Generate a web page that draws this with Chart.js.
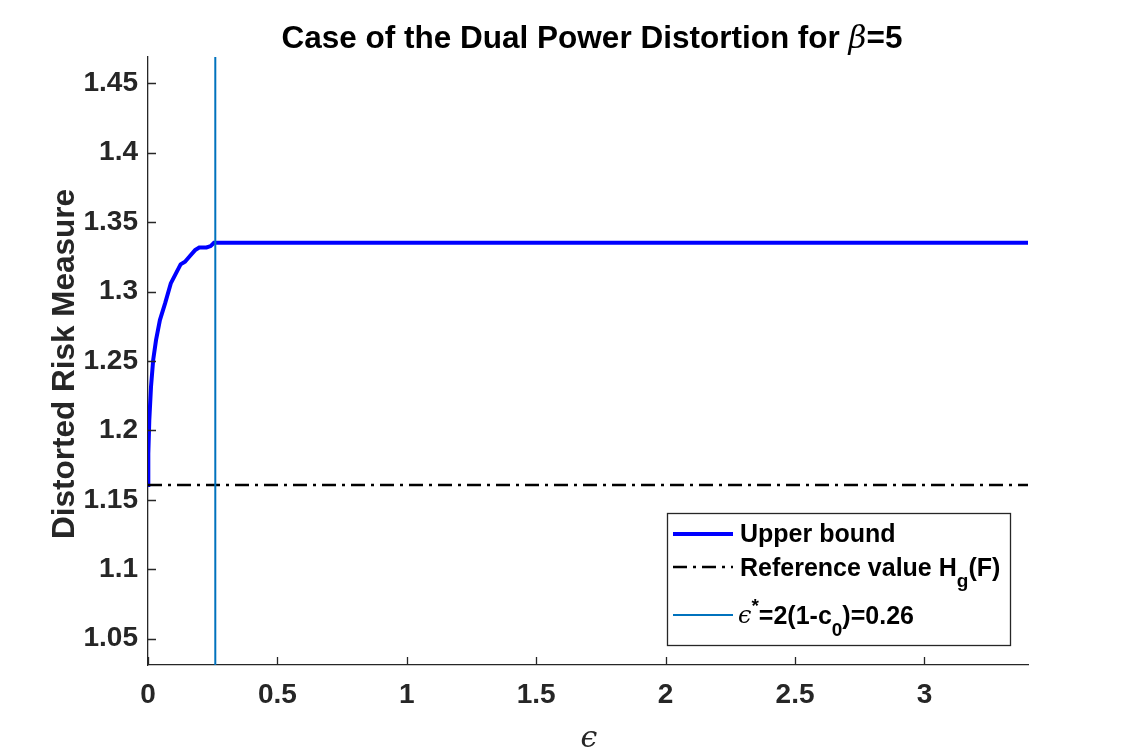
<!DOCTYPE html>
<html>
<head>
<meta charset="utf-8">
<script src="https://cdn.jsdelivr.net/npm/chart.js@4/dist/chart.umd.min.js"></script>
<style>
html,body{margin:0;padding:0;background:#fff;}
#wrap{width:1138px;height:756px;}
</style>
</head>
<body>
<div id="wrap"><canvas id="c" width="1138" height="756"></canvas></div>
<script>
// ---- data ----
const upperX = [0, 0.0012, 0.005, 0.0116, 0.02, 0.031, 0.046, 0.066, 0.088, 0.108, 0.126, 0.143, 0.162, 0.182, 0.198, 0.226, 0.242, 0.255, 3.4];
const upperY = [1.1606, 1.1834, 1.2074, 1.2314, 1.2507, 1.265, 1.2795, 1.2915, 1.3059, 1.3131, 1.3196, 1.3215, 1.3256, 1.3299, 1.3318, 1.3318, 1.3328, 1.3352, 1.3352];
const referenceValue = 1.1606;
const epsStar = 0.26;
const xRange = [0, 3.4];
const yRange = [1.031, 1.469];
const xTickValues = [0, 0.5, 1, 1.5, 2, 2.5, 3];
const xTickLabels = ['0', '0.5', '1', '1.5', '2', '2.5', '3'];
const yTickValues = [1.05, 1.1, 1.15, 1.2, 1.25, 1.3, 1.35, 1.4, 1.45];
const yTickLabels = ['1.05', '1.1', '1.15', '1.2', '1.25', '1.3', '1.35', '1.4', '1.45'];

const SANS = '"Liberation Sans", Arial, Helvetica, sans-serif';
const SERIF = '"DejaVu Serif", "Liberation Serif", serif';
const AXIS = '#262626';

function drawRuns(ctx, x, runs, align) {
  let total = 0;
  runs.forEach(r => { ctx.font = r.font; r.w = ctx.measureText(r.t).width; total += r.w; });
  let cx = align === 'center' ? x - total / 2 : x;
  ctx.textAlign = 'left';
  ctx.textBaseline = 'alphabetic';
  runs.forEach(r => { ctx.font = r.font; ctx.fillText(r.t, cx, r.base); cx += r.w; });
}

const decor = {
  id: 'decor',
  afterDraw(chart) {
    const ctx = chart.ctx;
    const xs = chart.scales.x, ys = chart.scales.y;
    const area = chart.chartArea;
    ctx.save();
    // inward tick marks
    ctx.strokeStyle = AXIS;
    ctx.lineWidth = 1.3;
    ctx.beginPath();
    xTickValues.forEach(v => { const px = Math.round(xs.getPixelForValue(v)) + 0.5; ctx.moveTo(px, area.bottom); ctx.lineTo(px, area.bottom - 8); });
    yTickValues.forEach(v => { const py = Math.round(ys.getPixelForValue(v)) + 0.5; ctx.moveTo(area.left, py); ctx.lineTo(area.left + 8, py); });
    ctx.stroke();

    // title
    ctx.fillStyle = '#000';
    const cxm = (area.left + area.right) / 2 + 4;
    drawRuns(ctx, cxm, [
      {t: 'Case of the Dual Power Distortion for ', font: 'bold 31.5px ' + SANS, base: 48},
      {t: 'β', font: 'italic 31px ' + SERIF, base: 48},
      {t: '=5', font: 'bold 31.5px ' + SANS, base: 48}
    ], 'center');

    // x axis title
    ctx.fillStyle = AXIS;
    ctx.font = 'italic 30px ' + SERIF;
    ctx.textAlign = 'center';
    ctx.textBaseline = 'alphabetic';
    ctx.fillText('ϵ', 589, 747);

    // y axis title
    ctx.save();
    ctx.translate(74, 364);
    ctx.rotate(-Math.PI / 2);
    ctx.font = 'bold 31.5px ' + SANS;
    ctx.textAlign = 'center';
    ctx.textBaseline = 'alphabetic';
    ctx.fillText('Distorted Risk Measure', 0, 0);
    ctx.restore();

    // legend
    const L = 667, T = 513, R = 1010, B = 645;
    ctx.fillStyle = '#fff';
    ctx.fillRect(L, T, R - L, B - T);
    ctx.strokeStyle = AXIS;
    ctx.lineWidth = 1.3;
    ctx.strokeRect(L + 0.5, T + 0.5, R - L, B - T);
    const ds = chart.data.datasets;
    const rows = [
      {ds: ds[2], y: 534},
      {ds: ds[1], y: 567},
      {ds: ds[0], y: 615}
    ];
    rows.forEach(r => {
      ctx.save();
      ctx.strokeStyle = r.ds.borderColor;
      ctx.lineWidth = r.ds.borderWidth;
      ctx.setLineDash(r.ds.borderDash || []);
      ctx.beginPath();
      ctx.moveTo(673, r.y); ctx.lineTo(733, r.y);
      ctx.stroke();
      ctx.restore();
    });
    ctx.fillStyle = '#000';
    const LF = 'bold 25px ' + SANS, SF = 'bold 19px ' + SANS;
    drawRuns(ctx, 740, [{t: 'Upper bound', font: LF, base: 542}], 'left');
    drawRuns(ctx, 740, [
      {t: 'Reference value H', font: LF, base: 576},
      {t: 'g', font: SF, base: 587},
      {t: '(F)', font: LF, base: 576}
    ], 'left');
    drawRuns(ctx, 738, [
      {t: 'ϵ', font: 'italic 24px ' + SERIF, base: 623},
      {t: '*', font: SF, base: 612},
      {t: '=2(1-c', font: LF, base: 624},
      {t: '0', font: SF, base: 636},
      {t: ')=0.26', font: LF, base: 624}
    ], 'left');
    ctx.restore();
  }
};

const upperData = upperX.map((x, i) => ({x: x, y: upperY[i]}));
const refData = [{x: xRange[0], y: referenceValue}, {x: xRange[1], y: referenceValue}];
const vertData = [{x: epsStar, y: yRange[0]}, {x: epsStar, y: yRange[1]}];

new Chart(document.getElementById('c'), {
  type: 'line',
  data: {
    datasets: [
      {label: 'eps*', data: vertData, borderColor: '#0072BD', borderWidth: 2, pointRadius: 0, order: 0},
      {label: 'Reference value', data: refData, borderColor: '#000000', borderWidth: 2.5, borderDash: [14, 6, 3, 6], pointRadius: 0, order: 1},
      {label: 'Upper bound', data: upperData, borderColor: '#0000FF', borderWidth: 4, pointRadius: 0, order: 2}
    ]
  },
  options: {
    responsive: false,
    devicePixelRatio: 1,
    animation: false,
    layout: {padding: {left: 0, right: 110, top: 57, bottom: 0}},
    plugins: {legend: {display: false}, title: {display: false}, tooltip: {enabled: false}},
    elements: {line: {tension: 0}},
    scales: {
      x: {
        type: 'linear', min: xRange[0], max: xRange[1],
        grid: {display: false},
        border: {display: true, color: AXIS, width: 1.3},
        afterFit: s => { s.height = 91; },
        afterBuildTicks: s => { s.ticks = xTickValues.map(v => ({value: v})); },
        ticks: {color: AXIS, font: {family: SANS, size: 28, weight: 'bold'}, padding: 5, maxRotation: 0, autoSkip: false,
          callback: (v, i) => xTickLabels[i]}
      },
      y: {
        type: 'linear', min: yRange[0], max: yRange[1],
        grid: {display: false},
        border: {display: true, color: AXIS, width: 1.3},
        afterFit: s => { s.width = 148; },
        afterBuildTicks: s => { s.ticks = yTickValues.map(v => ({value: v})); },
        ticks: {color: AXIS, font: {family: SANS, size: 28, weight: 'bold'}, padding: 2, autoSkip: false,
          callback: (v, i) => yTickLabels[i]}
      }
    }
  },
  plugins: [decor]
});
</script>
</body>
</html>
